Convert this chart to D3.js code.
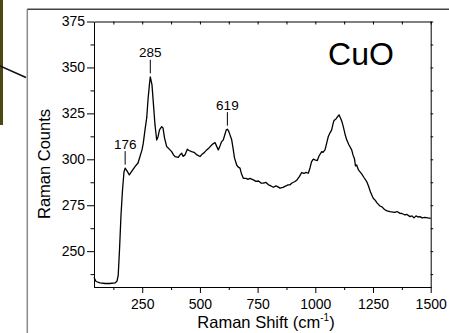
<!DOCTYPE html>
<html>
<head>
<meta charset="utf-8">
<script src="https://cdn.jsdelivr.net/npm/d3@7"></script>
<style>
  html, body { margin: 0; padding: 0; background: #fff; }
  svg { display: block; font-family: Arial, "Liberation Sans", sans-serif; }
</style>
</head>
<body>
<svg id="chart" width="449" height="333"></svg>
<script>
// Raman spectrum of CuO: wavenumber (cm^-1) and counts
const shift = [41, 50, 67, 89, 110, 132, 141, 146, 151.5, 158, 164.5, 171, 176, 184, 194, 205.7, 218.7, 231.7, 240.3, 249, 254.6, 262, 269.4, 275, 281.5, 285, 292.3, 298.8, 305.3, 312.7, 318.3, 324.8, 334.3, 340, 346.5, 356, 366, 377.7, 385.5, 392, 406.3, 413.7, 421, 426.6, 435.3, 445.3, 452.6, 464.3, 474.3, 487.3, 500.3, 509, 517.6, 529.3, 539.3, 551, 556.6, 565.3, 571.8, 579.6, 587, 593.5, 601.3, 608.7, 614.3, 619, 623.8, 630.3, 637.7, 643.3, 649.8, 659.3, 665, 673.6, 680.1, 688, 699.6, 708.3, 717, 731.3, 743, 753.8, 764.6, 774.6, 786.3, 797.1, 808, 818, 829.6, 838.3, 847, 860, 873, 881.6, 890.3, 899, 912, 920.6, 931.5, 941, 951, 959.6, 969.6, 977, 983.5, 991.3, 998.6, 1008.6, 1016, 1027.7, 1033.3, 1042, 1048.5, 1056.3, 1063.7, 1071, 1076.6, 1081, 1089.6, 1096, 1102.6, 1109, 1115.6, 1121.2, 1128.6, 1136, 1146, 1157.6, 1163.3, 1169.8, 1174, 1179.2, 1187, 1200.8, 1210.8, 1222.6, 1230.4, 1239, 1251, 1258.5, 1267.2, 1280.2, 1289, 1299.8, 1310.6, 1323.6, 1336.6, 1345.3, 1354, 1367, 1375.6, 1388.6, 1397.3, 1410.3, 1419, 1427.6, 1436.3, 1445, 1453.6, 1462.3, 1475.3, 1488.3, 1500];
const counts = [235.7, 233.5, 232.7, 232.4, 232.4, 232.7, 233.8, 237, 250.7, 269.7, 283.3, 293.1, 295.2, 293.7, 291.5, 293.7, 296, 298, 301.5, 305.1, 308.8, 316, 322.5, 332.4, 341.1, 344.9, 340.5, 329.6, 318.7, 310.5, 312.2, 316, 317.8, 317.1, 311.7, 306.9, 305.7, 304.2, 302.4, 301.5, 301.1, 302.4, 303.3, 301.6, 302.4, 305.5, 304.8, 304.2, 303.8, 302.4, 301.5, 302.7, 303.5, 305.1, 306.2, 307.8, 308.4, 309.1, 307.3, 305.1, 307.3, 309.5, 310.6, 313.8, 316, 316.4, 315.5, 313.3, 310.6, 306.2, 300.8, 296.9, 295.9, 295.2, 292.1, 289.7, 289.6, 289.1, 289.6, 288.8, 288, 288.2, 287.1, 287, 287.4, 286.1, 285.5, 284.8, 285.5, 285, 284.3, 284.7, 285.5, 286.1, 286.1, 287.1, 287.9, 288.8, 290.7, 292.8, 292.3, 292.9, 292.4, 295.3, 298.6, 300.1, 299.7, 299.3, 301.8, 304.2, 303.8, 305.1, 308.4, 312.4, 314.4, 316, 319.3, 321.1, 322, 323.1, 324.2, 322.5, 320.4, 317.8, 313.8, 310.6, 307.8, 305.1, 302.4, 300.2, 296.4, 296.9, 294.2, 292.1, 290.1, 287.9, 285.5, 282.2, 278.8, 277.9, 276.3, 274.6, 274.1, 272.7, 271.9, 271.5, 271.3, 271.1, 271.6, 270.6, 270.5, 269.7, 270, 268.8, 269.2, 268.1, 269.2, 268.6, 268.8, 268.1, 268.4, 268.1, 267.9];

// Peak positions annotated above the curve
const peakLabels = [176, 285, 619];

// Axis ticks
const xMajor = [250, 500, 750, 1000, 1250, 1500];
const xMinor = [125, 375, 625, 875, 1125, 1375];
const yMajor = [250, 275, 300, 325, 350, 375];
const yMinor = [237.5, 262.5, 287.5, 312.5, 337.5, 362.5];

const svg = d3.select("#chart");

// Slide decoration around the plot
svg.append("rect").attr("x", 0).attr("y", 0).attr("width", 3).attr("height", 125).attr("fill", "#4d4812");
svg.append("line").attr("x1", 0).attr("y1", 66).attr("x2", 26).attr("y2", 77.5)
  .attr("stroke", "#111").attr("stroke-width", 1.6);
svg.append("line").attr("x1", 27.3).attr("y1", 9.3).attr("x2", 27.3).attr("y2", 333)
  .attr("stroke", "#8a8a8a").attr("stroke-width", 1.5);
svg.append("line").attr("x1", 27.3).attr("y1", 9.3).attr("x2", 449).attr("y2", 9.3)
  .attr("stroke", "#444").attr("stroke-width", 1.4);

const L = 94, R = 430.7, T = 21.5, B = 287;
const x = d3.scaleLinear().domain([41, 1500]).range([L, R]);
const y = d3.scaleLinear().domain([230.5, 375]).range([B, T]);
const fmt = d3.format("d");

function styleAxis(g) {
  g.select(".domain").attr("stroke", "#000").attr("stroke-width", 1);
  g.selectAll(".tick line").attr("stroke", "#000").attr("stroke-width", 1);
  g.selectAll("text").attr("fill", "#000").attr("font-size", 14)
    .attr("font-family", "Arial, 'Liberation Sans', sans-serif");
}

// Bottom axis: major + minor outward
svg.append("g").attr("transform", `translate(0,${B})`)
  .call(d3.axisBottom(x).tickValues(xMajor).tickFormat(fmt).tickSize(6).tickPadding(6).tickSizeOuter(0))
  .call(styleAxis);
svg.append("g").attr("transform", `translate(0,${B})`)
  .call(d3.axisBottom(x).tickValues(xMinor).tickSize(3).tickFormat("").tickSizeOuter(0))
  .call(styleAxis);

// Left axis
svg.append("g").attr("transform", `translate(${L},0)`)
  .call(d3.axisLeft(y).tickValues(yMajor).tickFormat(fmt).tickSize(7).tickPadding(2).tickSizeOuter(0))
  .call(styleAxis);
svg.append("g").attr("transform", `translate(${L},0)`)
  .call(d3.axisLeft(y).tickValues(yMinor).tickSize(3.5).tickFormat("").tickSizeOuter(0))
  .call(styleAxis);

// Top axis: short inward ticks
svg.append("g").attr("transform", `translate(0,${T})`)
  .call(d3.axisBottom(x).tickValues(xMajor.concat(xMinor)).tickSize(3).tickFormat("").tickSizeOuter(0))
  .call(styleAxis);

// Right axis: short outward ticks
svg.append("g").attr("transform", `translate(${R},0)`)
  .call(d3.axisRight(y).tickValues(yMajor.concat(yMinor)).tickSize(2.5).tickFormat("").tickSizeOuter(0))
  .call(styleAxis);

// Spectrum
const pts = shift.map((s, i) => [s, counts[i]]);
svg.append("path").datum(pts)
  .attr("fill", "none").attr("stroke", "#000").attr("stroke-width", 1.3)
  .attr("stroke-linejoin", "round")
  .attr("d", d3.line().x(d => x(d[0])).y(d => y(d[1])));

// Peak annotations
peakLabels.forEach(p => {
  const i = d3.minIndex(shift, s => Math.abs(s - p));
  const px = x(p), py = y(counts[i]);
  svg.append("line").attr("x1", px).attr("x2", px).attr("y1", py - 17).attr("y2", py - 3.5)
    .attr("stroke", "#000").attr("stroke-width", 1);
  svg.append("text").attr("x", px).attr("y", py - 19.5).attr("text-anchor", "middle")
    .attr("font-size", 13.5).attr("fill", "#000").text(p);
});

// Sample name
svg.append("text").attr("x", 361).attr("y", 65).attr("text-anchor", "middle")
  .attr("font-size", 32).attr("fill", "#000").text("CuO");

// Axis titles
svg.append("text").attr("transform", "translate(50,164) rotate(-90)")
  .attr("text-anchor", "middle").attr("font-size", 16.5).attr("fill", "#000").text("Raman Counts");

const xt = svg.append("text").attr("x", 266).attr("y", 327.5).attr("text-anchor", "middle")
  .attr("font-size", 16.5).attr("fill", "#000");
xt.append("tspan").text("Raman Shift (cm");
xt.append("tspan").attr("font-size", 10).attr("dy", -7).text("-1");
xt.append("tspan").attr("dy", 7).text(")");
</script>
</body>
</html>
